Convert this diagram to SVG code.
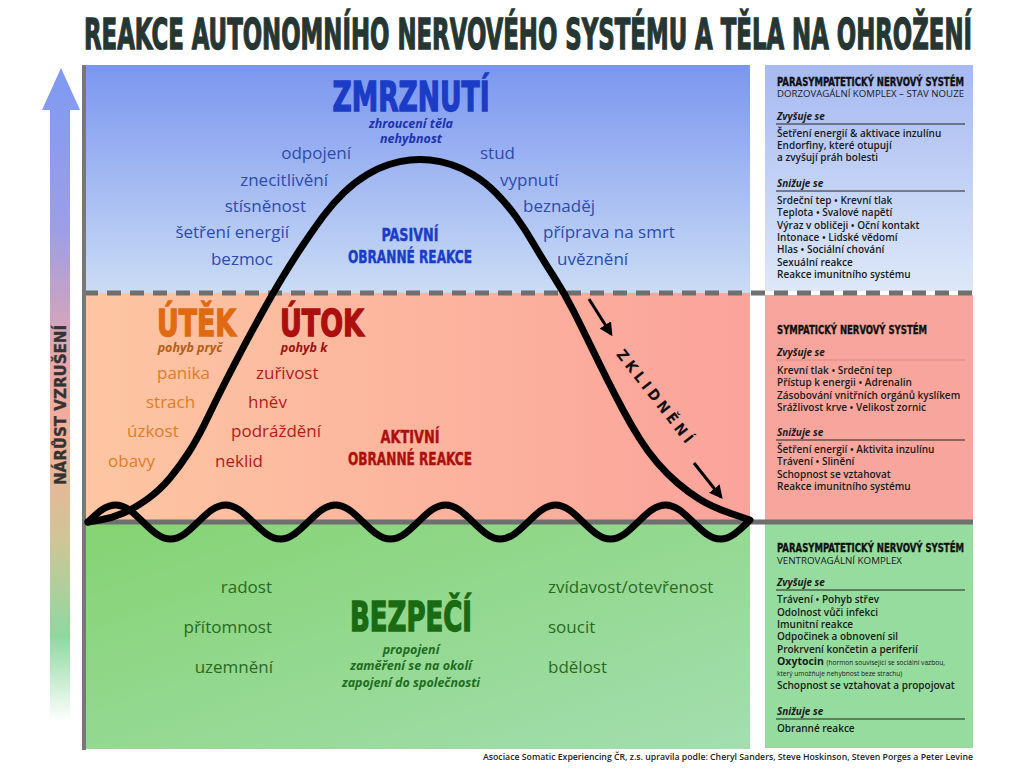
<svg xmlns="http://www.w3.org/2000/svg" width="1024" height="768" viewBox="0 0 1024 768">
<defs>
<style>
.ttl{font-family:"Liberation Sans Narrow","DejaVu Sans Condensed","Liberation Sans",sans-serif;font-weight:700;fill:#263633;stroke:#263633;stroke-width:0.9}
.hd{font-family:"Liberation Sans Narrow","DejaVu Sans Condensed","Liberation Sans",sans-serif;font-weight:700}
.big{stroke-width:1.3}
.w{font-family:"Open Sans","Noto Sans",sans-serif;font-size:17px}
.it{font-family:"Open Sans","Noto Sans",sans-serif;font-size:12.5px;font-weight:700;font-style:italic}
.blue{fill:#2d4bb0}.dblue{fill:#1b3cc6;stroke:#1b3cc6}
.or{fill:#e47b26}.dor{fill:#e06a12;stroke:#e06a12}.red{fill:#b41a1a}.dred{fill:#ad0f0f;stroke:#ad0f0f}
.grn{fill:#2a6a20}.dgrn{fill:#1a6a12;stroke:#1a6a12}
.sm{stroke-width:0.4}
.ph{font-family:"Liberation Sans Narrow","DejaVu Sans Condensed","Liberation Sans",sans-serif;font-weight:700;font-size:12px;fill:#111;stroke:#111;stroke-width:0.35}
.ps{font-family:"Open Sans","Noto Sans",sans-serif;font-size:9.5px;fill:#1a1a1a}
.pz{font-family:"Open Sans","Noto Sans",sans-serif;font-size:10px;font-weight:700;font-style:italic;fill:#1a1a1a}
.pi{font-family:"Open Sans","Noto Sans",sans-serif;font-size:10px;font-weight:600;fill:#1a1a1a}
.tiny{font-size:6.6px;font-weight:400}
.rule{stroke:#222;stroke-width:1}
.curve{fill:none;stroke:#000;stroke-width:7;stroke-linecap:round;stroke-linejoin:round}
.arr{stroke:#000;stroke-width:3;marker-end:url(#ah)}
</style>
<linearGradient id="gTop" x1="0" y1="0" x2="0" y2="1"><stop offset="0" stop-color="#7b96ef"/><stop offset="1" stop-color="#cadcf5"/></linearGradient>
<linearGradient id="gTopR" x1="0" y1="0" x2="0" y2="1"><stop offset="0" stop-color="#a6b9f2"/><stop offset="1" stop-color="#dde8f8"/></linearGradient>
<linearGradient id="gMid" x1="0" y1="0" x2="1" y2="0"><stop offset="0" stop-color="#fdc6a2"/><stop offset="1" stop-color="#fba39b"/></linearGradient>
<linearGradient id="gBot" x1="0" y1="0" x2="1" y2="1"><stop offset="0" stop-color="#85d372"/><stop offset="1" stop-color="#a3deb0"/></linearGradient>
<linearGradient id="gArr" gradientUnits="userSpaceOnUse" x1="0" y1="68" x2="0" y2="722"><stop offset="0" stop-color="#7d9af2"/><stop offset="0.25" stop-color="#9e9ee6"/><stop offset="0.45" stop-color="#e9a7aa"/><stop offset="0.56" stop-color="#f6ae98"/><stop offset="0.72" stop-color="#cfc596"/><stop offset="0.87" stop-color="#8fd8a0"/><stop offset="1" stop-color="#ffffff"/></linearGradient>
<marker id="ah" viewBox="0 0 10 10" refX="8" refY="5" markerWidth="4.5" markerHeight="4.5" orient="auto"><path d="M0,0 L10,5 L0,10 Z" fill="#000"/></marker>
</defs>
<rect width="1024" height="768" fill="#ffffff"/>

<g id="title"><text class="ttl" transform="translate(528,49) scale(1,1.43)" x="0" y="0" font-size="30" text-anchor="middle" textLength="888" lengthAdjust="spacingAndGlyphs">REAKCE AUTONOMNÍHO NERVOVÉHO SYSTÉMU A TĚLA NA OHROŽENÍ</text></g>

<g id="backgrounds">
<rect x="86" y="65" width="664" height="228" fill="url(#gTop)"/>
<rect x="86" y="293" width="664" height="229" fill="url(#gMid)"/>
<rect x="86" y="522" width="664" height="227" fill="url(#gBot)"/>
<rect x="765" y="65" width="208" height="226" fill="url(#gTopR)"/>
<rect x="765" y="295" width="208" height="226" fill="#f8a69d"/>
<rect x="765" y="523" width="208" height="225" fill="#96dc9e"/>
<line x1="84" y1="293" x2="973" y2="293" stroke="#6f6f6f" stroke-width="5" stroke-dasharray="14 9"/>
<line x1="86" y1="522" x2="973" y2="522" stroke="#6f6f6f" stroke-width="5"/>
<line x1="84" y1="65" x2="84" y2="750" stroke="#777" stroke-width="4"/>
</g>

<g id="arousal-arrow">
<path d="M50,110 L42,110 L61,68 L80,110 L70,110 L70,722 L50,722 Z" fill="url(#gArr)"/>
<text class="hd" transform="translate(66,405) rotate(-90)" font-size="15" fill="#333" stroke="#333" stroke-width="0.3" text-anchor="middle" textLength="160" lengthAdjust="spacingAndGlyphs">NÁRŮST VZRUŠENÍ</text>
</g>

<g id="connectors">
<path class="curve" d="M88,522 C96.97,513.29 105.55,505 115.5,505 S134.03,513.29 143,522 S160.55,539 170.5,539 S189.03,530.71 198,522 S215.55,505 225.5,505 S244.03,513.29 253,522 S270.55,539 280.5,539 S299.03,530.71 308,522 S325.55,505 335.5,505 S354.03,513.29 363,522 S380.55,539 390.5,539 S409.03,530.71 418,522 S435.55,505 445.5,505 S464.03,513.29 473,522 S490.55,539 500.5,539 S519.03,530.71 528,522 S545.55,505 555.5,505 S574.03,513.29 583,522 S600.55,539 610.5,539 S629.03,530.71 638,522 S655.55,505 665.5,505 S684.03,513.29 693,522 S710.55,539 720.5,539 S739.03,530.71 748,522"/>
<path class="curve" d="M88,522 L100,520 Q112,518 123.5,513 Q135,508 147.5,499 Q160,490 170,478 Q180,466 189,452 Q198,438 209,415 Q220,392 233.5,366 Q247,340 260,316.5 Q273,293 283,276.5 Q293,260 303,245 Q313,230 323,216.5 Q333,203 344,192.5 Q355,182 366.5,175 Q378,168 389,164.5 Q400,161 410,160 Q420,159 430,160 Q440,161 451,164.5 Q462,168 473.5,175 Q485,182 495.5,192.5 Q506,203 515.5,216 Q525,229 534,244.5 Q543,260 554,277 Q565,294 574,312 Q583,330 591.5,347.5 Q600,365 607.5,380 Q615,395 623,410 Q631,425 639.5,438.5 Q648,452 657.5,463 Q667,474 677.5,483 Q688,492 700,499.5 Q712,507 731,513.5 L750,520"/>
<line class="arr" x1="589" y1="299" x2="611" y2="334"/>
<line class="arr" x1="694" y1="463" x2="721" y2="497"/>
<text class="hd" transform="translate(652,401) rotate(52)" font-size="15" fill="#111" text-anchor="middle" letter-spacing="4">ZKLIDNĚNÍ</text>
</g>

<g id="freeze">
<text class="hd dblue big" x="411" y="111" font-size="40" text-anchor="middle" textLength="157" lengthAdjust="spacingAndGlyphs">ZMRZNUTÍ</text>
<text class="it" x="411" y="128" text-anchor="middle" fill="#1d32b0">zhroucení těla</text>
<text class="it" x="411" y="143" text-anchor="middle" fill="#1d32b0">nehybnost</text>
<text class="w blue" x="351" y="159" text-anchor="end">odpojení</text>
<text class="w blue" x="328" y="186" text-anchor="end">znecitlivění</text>
<text class="w blue" x="306" y="212" text-anchor="end">stísněnost</text>
<text class="w blue" x="289" y="238" text-anchor="end">šetření energií</text>
<text class="w blue" x="273" y="265" text-anchor="end">bezmoc</text>
<text class="w blue" x="480" y="159">stud</text>
<text class="w blue" x="500" y="186">vypnutí</text>
<text class="w blue" x="523" y="212">beznaděj</text>
<text class="w blue" x="543" y="238">příprava na smrt</text>
<text class="w blue" x="557" y="265">uvěznění</text>
<text class="hd dblue sm" x="410" y="241" font-size="17" text-anchor="middle" textLength="57" lengthAdjust="spacingAndGlyphs">PASIVNÍ</text>
<text class="hd dblue sm" x="410" y="263" font-size="17" text-anchor="middle" textLength="124" lengthAdjust="spacingAndGlyphs">OBRANNÉ REAKCE</text>
</g>

<g id="flight">
<text class="hd dor big" x="157" y="336" font-size="38" textLength="79" lengthAdjust="spacingAndGlyphs">ÚTĚK</text>
<text class="it" x="190" y="352" text-anchor="middle" fill="#b85d16">pohyb pryč</text>
<text class="w or" x="157" y="379">panika</text>
<text class="w or" x="146" y="408">strach</text>
<text class="w or" x="127" y="437">úzkost</text>
<text class="w or" x="108" y="467">obavy</text>
</g>

<g id="fight">
<text class="hd dred big" x="280" y="336" font-size="38" textLength="84" lengthAdjust="spacingAndGlyphs">ÚTOK</text>
<text class="it" x="304" y="352" text-anchor="middle" fill="#9a1212">pohyb k</text>
<text class="w red" x="256" y="379">zuřivost</text>
<text class="w red" x="248" y="408">hněv</text>
<text class="w red" x="231" y="437">podráždění</text>
<text class="w red" x="215" y="467">neklid</text>
<text class="hd dred sm" x="410" y="443" font-size="17" text-anchor="middle" textLength="59" lengthAdjust="spacingAndGlyphs">AKTIVNÍ</text>
<text class="hd dred sm" x="410" y="465" font-size="17" text-anchor="middle" textLength="124" lengthAdjust="spacingAndGlyphs">OBRANNÉ REAKCE</text>
</g>

<g id="safety">
<text class="hd dgrn big" x="411" y="631" font-size="40" text-anchor="middle" textLength="122" lengthAdjust="spacingAndGlyphs">BEZPEČÍ</text>
<text class="it" x="411" y="654" text-anchor="middle" fill="#1e6e1e">propojení</text>
<text class="it" x="411" y="670" text-anchor="middle" fill="#1e6e1e">zaměření se na okolí</text>
<text class="it" x="411" y="687" text-anchor="middle" fill="#1e6e1e">zapojení do společnosti</text>
<text class="w grn" x="272" y="593" text-anchor="end">radost</text>
<text class="w grn" x="272" y="633" text-anchor="end">přítomnost</text>
<text class="w grn" x="273" y="673" text-anchor="end">uzemnění</text>
<text class="w grn" x="548" y="593">zvídavost/otevřenost</text>
<text class="w grn" x="548" y="633">soucit</text>
<text class="w grn" x="548" y="673">bdělost</text>
</g>

<g id="panel-dorsal">
<text class="ph" x="777" y="86" textLength="187" lengthAdjust="spacingAndGlyphs">PARASYMPATETICKÝ NERVOVÝ SYSTÉM</text>
<text class="ps" x="777" y="97" textLength="187" lengthAdjust="spacingAndGlyphs">DORZOVAGÁLNÍ KOMPLEX – STAV NOUZE</text>
<text class="pz" x="777" y="120">Zvyšuje se</text>
<line class="rule" x1="776" y1="124" x2="965" y2="124"/>
<text class="pi" x="777" y="137">Šetření energií &amp; aktivace inzulínu</text>
<text class="pi" x="777" y="149">Endorfiny, které otupují</text>
<text class="pi" x="777" y="161">a zvyšují práh bolesti</text>
<text class="pz" x="777" y="187">Snižuje se</text>
<line class="rule" x1="776" y1="191" x2="965" y2="191"/>
<text class="pi" x="777" y="204">Srdeční tep • Krevní tlak</text>
<text class="pi" x="777" y="216">Teplota • Svalové napětí</text>
<text class="pi" x="777" y="228.5">Výraz v obličeji • Oční kontakt</text>
<text class="pi" x="777" y="241">Intonace • Lidské vědomí</text>
<text class="pi" x="777" y="253">Hlas • Sociální chování</text>
<text class="pi" x="777" y="265.5">Sexuální reakce</text>
<text class="pi" x="777" y="278">Reakce imunitního systému</text>
</g>

<g id="panel-sympathetic">
<text class="ph" x="777" y="334" textLength="150" lengthAdjust="spacingAndGlyphs">SYMPATICKÝ NERVOVÝ SYSTÉM</text>
<text class="pz" x="777" y="356">Zvyšuje se</text>
<line x1="776" y1="360" x2="965" y2="360" stroke="#d98a84" stroke-width="1"/>
<text class="pi" x="777" y="374">Krevní tlak • Srdeční tep</text>
<text class="pi" x="777" y="386">Přístup k energii • Adrenalin</text>
<text class="pi" x="777" y="398.5">Zásobování vnitřních orgánů kyslíkem</text>
<text class="pi" x="777" y="411">Srážlivost krve • Velikost zornic</text>
<text class="pz" x="777" y="436">Snižuje se</text>
<line class="rule" x1="776" y1="440" x2="965" y2="440"/>
<text class="pi" x="777" y="453">Šetření energií • Aktivita inzulínu</text>
<text class="pi" x="777" y="465">Trávení • Slinění</text>
<text class="pi" x="777" y="478">Schopnost se vztahovat</text>
<text class="pi" x="777" y="490">Reakce imunitního systému</text>
</g>

<g id="panel-ventral">
<text class="ph" x="777" y="552" textLength="187" lengthAdjust="spacingAndGlyphs">PARASYMPATETICKÝ NERVOVÝ SYSTÉM</text>
<text class="ps" x="777" y="564" textLength="125" lengthAdjust="spacingAndGlyphs">VENTROVAGÁLNÍ KOMPLEX</text>
<text class="pz" x="777" y="586">Zvyšuje se</text>
<line class="rule" x1="776" y1="590" x2="965" y2="590"/>
<text class="pi" x="777" y="603">Trávení • Pohyb střev</text>
<text class="pi" x="777" y="615.5">Odolnost vůči infekci</text>
<text class="pi" x="777" y="628">Imunitní reakce</text>
<text class="pi" x="777" y="640">Odpočinek a obnovení sil</text>
<text class="pi" x="777" y="652.5">Prokrvení končetin a periferií</text>
<text class="pi" x="777" y="665"><tspan font-weight="700" font-size="10.5">Oxytocin</tspan> <tspan class="tiny">(hormon související se sociální vazbou,</tspan></text>
<text class="pi tiny" x="777" y="676">který umožňuje nehybnost beze strachu)</text>
<text class="pi" x="777" y="689">Schopnost se vztahovat a propojovat</text>
<text class="pz" x="777" y="715">Snižuje se</text>
<line class="rule" x1="776" y1="719" x2="965" y2="719"/>
<text class="pi" x="777" y="732">Obranné reakce</text>
</g>

<g id="credit"><text x="973" y="760" text-anchor="end" font-family="Open Sans, Noto Sans, sans-serif" font-size="8.4" font-weight="600" fill="#222" textLength="490" lengthAdjust="spacingAndGlyphs">Asociace Somatic Experiencing ČR, z.s. upravila podle: Cheryl Sanders, Steve Hoskinson, Steven Porges a Peter Levine</text></g>
</svg>
